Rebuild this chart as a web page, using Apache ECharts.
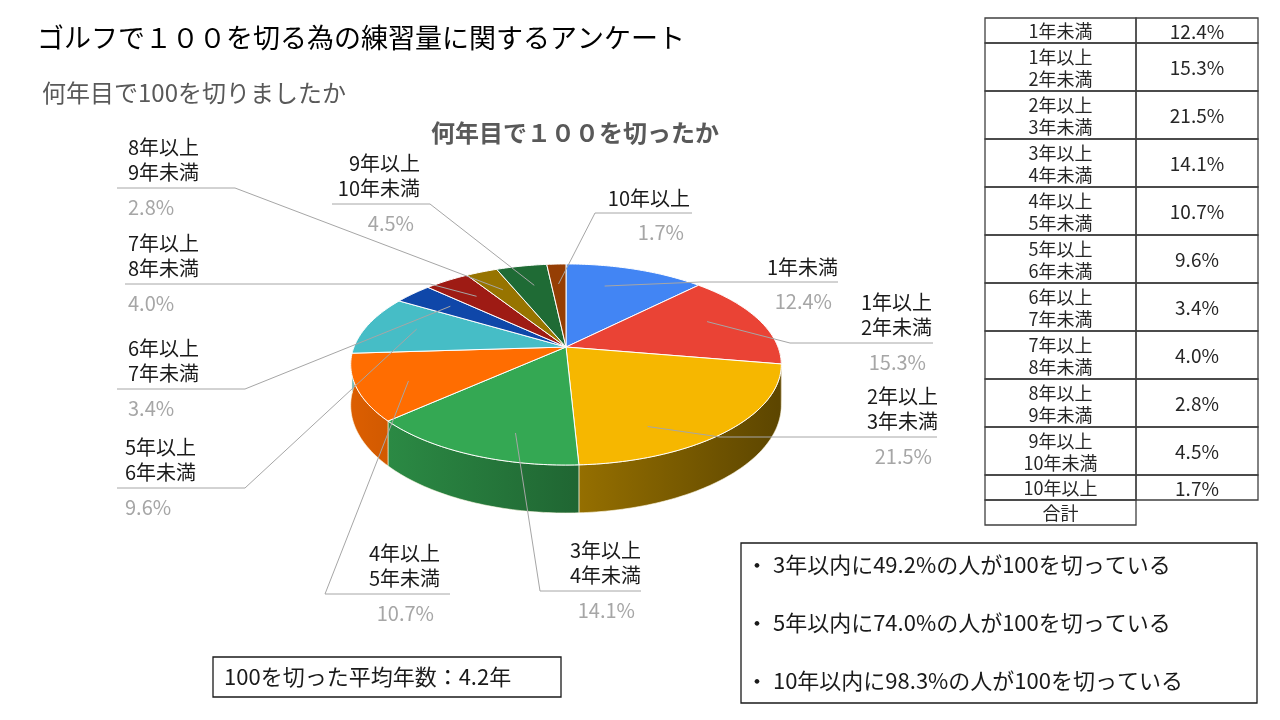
<!DOCTYPE html>
<html>
<head>
<meta charset="utf-8">
<script src="https://cdn.jsdelivr.net/npm/echarts@6/dist/echarts.min.js"></script>
<style>
html,body{margin:0;padding:0;background:#fff;}
#chart{width:1280px;height:720px;}
</style>
</head>
<body>
<div id="chart"></div>
<script>
"use strict";

// ---- data ----
var categories = [
  '1年未満',
  '1年以上\n2年未満',
  '2年以上\n3年未満',
  '3年以上\n4年未満',
  '4年以上\n5年未満',
  '5年以上\n6年未満',
  '6年以上\n7年未満',
  '7年以上\n8年未満',
  '8年以上\n9年未満',
  '9年以上\n10年未満',
  '10年以上'
];
var shares = [12.4, 15.3, 21.5, 14.1, 10.7, 9.6, 3.4, 4.0, 2.8, 4.5, 1.7];
var tableFooter = '合計';

var mainTitle = 'ゴルフで１００を切る為の練習量に関するアンケート';
var subTitle = '何年目で100を切りましたか';
var pieTitle = '何年目で１００を切ったか';
var averageNote = '100を切った平均年数：4.2年';
var summaryLines = [
  '・ 3年以内に49.2%の人が100を切っている',
  '・ 5年以内に74.0%の人が100を切っている',
  '・ 10年以内に98.3%の人が100を切っている'
];

// ---- styles / layout ----
var sliceColors = ['#4285F4','#EA4335','#F6B700','#34A853','#FF6D01','#46BDC6',
                   '#0F47A9','#9E1B14','#977400','#1F6B35','#953E04'];
var FONT = '"Noto Sans CJK JP", "Noto Sans", sans-serif';

// perspective pie: centre, radii, tilt, depth
var PIE = {cx:566, cy:347, a:212, b:97.5, k:0.174, depth:39.6};

// label layout: line y, line left x, line right x, elbow end, text align, text x
var labelLayout = [
  {y:282, xl:700, xr:838, elbow:'l', align:'r', tx:838},
  {y:343, xl:790, xr:933, elbow:'l', align:'r', tx:932},
  {y:437, xl:720, xr:937, elbow:'l', align:'r', tx:938},
  {y:591, xl:540, xr:641, elbow:'l', align:'r', tx:641},
  {y:594, xl:325, xr:450, elbow:'l', align:'r', tx:440},
  {y:488, xl:117, xr:245, elbow:'r', align:'l', tx:125},
  {y:389, xl:117, xr:245, elbow:'r', align:'l', tx:128},
  {y:284, xl:125, xr:430, elbow:'r', align:'l', tx:128},
  {y:188, xl:117, xr:235, elbow:'r', align:'l', tx:128},
  {y:204, xl:332, xr:430, elbow:'r', align:'r', tx:420},
  {y:213, xl:595, xr:692, elbow:'l', align:'r', tx:690}
];

var TABLE = {x0:985, x1:1136, x2:1258, y0:18, row1:25, row2:48};

// ---- geometry ----
var total = shares.reduce(function(s, v){ return s + v; }, 0);
var startAngles = [];
(function(){
  var acc = 0;
  shares.forEach(function(v){ startAngles.push(acc / total * 360); acc += v; });
})();

function proj(t, r, dz){
  var rad = t * Math.PI / 180;
  var u = r * Math.sin(rad), v = -r * Math.cos(rad);
  var s = 1 / (1 - PIE.k * v);
  return [PIE.cx + PIE.a * u * s, PIE.cy + (PIE.b * v + (dz || 0)) * s];
}
function arc(t0, t1, dz){
  var pts = [];
  var n = Math.max(2, Math.ceil(t1 - t0));
  for (var j = 0; j <= n; j++) pts.push(proj(t0 + (t1 - t0) * j / n, 1, dz));
  return pts;
}
function shade(hex, f){
  var n = parseInt(hex.slice(1), 16);
  var r = Math.round(((n >> 16) & 255) * f), g = Math.round(((n >> 8) & 255) * f), b = Math.round((n & 255) * f);
  return 'rgb(' + r + ',' + g + ',' + b + ')';
}
// anchor for the leader line: on the screen-space bisector of the slice
function anchorOf(t0, t1){
  var c = [PIE.cx, PIE.cy];
  var p0 = proj(t0, 1, 0), p1 = proj(t1, 1, 0);
  var d0 = Math.atan2(p0[1] - c[1], p0[0] - c[0]), d1 = Math.atan2(p1[1] - c[1], p1[0] - c[0]);
  var mid = Math.atan2(Math.sin(d0) + Math.sin(d1), Math.cos(d0) + Math.cos(d1));
  var best = null, bestErr = 1e9;
  for (var t = t0; t <= t1; t += 0.25){
    var p = proj(t, 1, 0);
    var d = Math.atan2(p[1] - c[1], p[0] - c[0]);
    var err = Math.abs(Math.atan2(Math.sin(d - mid), Math.cos(d - mid)));
    if (err < bestErr){ bestErr = err; best = p; }
  }
  return [c[0] + (best[0] - c[0]) * 0.76, c[1] + (best[1] - c[1]) * 0.76];
}

function renderSlice(params, api){
  var i = params.dataIndex;
  var t0 = startAngles[i];
  var t1 = t0 + api.value(0) / total * 360;
  var col = sliceColors[i];
  var kids = [];

  // visible outer wall (front half)
  var a = Math.max(t0, 90), b = Math.min(t1, 270);
  if (a < b){
    var wall = arc(a, b, 0).concat(arc(a, b, PIE.depth).reverse());
    kids.push({
      type:'polygon', z2:1, shape:{points:wall},
      style:{
        fill:{type:'linear', x:PIE.cx - PIE.a, y:0, x2:PIE.cx + PIE.a, y2:0, global:true,
              colorStops:[{offset:0, color:shade(col, 0.86)}, {offset:1, color:shade(col, 0.38)}]},
        stroke:'rgba(255,250,230,0.75)', lineWidth:0.8
      }
    });
  }
  // top face
  kids.push({
    type:'polygon', z2:5,
    shape:{points:[[PIE.cx, PIE.cy]].concat(arc(t0, t1, 0))},
    style:{fill:col, stroke:'#ffffff', lineWidth:1}
  });

  // leader line + label
  var L = labelLayout[i];
  var anc = anchorOf(t0, t1);
  var elbow = L.elbow === 'l' ? [L.xl, L.y] : [L.xr, L.y];
  var far = L.elbow === 'l' ? [L.xr, L.y] : [L.xl, L.y];
  kids.push({type:'polyline', z2:8, shape:{points:[anc, elbow, far]},
             style:{stroke:'#a6a6a6', lineWidth:1, fill:null}});

  var lines = categories[i].split('\n');
  var ys = lines.length > 1 ? [L.y - 41, L.y - 16] : [L.y - 15];
  var al = L.align === 'r' ? 'right' : 'left';
  lines.forEach(function(s, j){
    kids.push({type:'text', z2:9, style:{
      text:s, x:L.tx, y:ys[j], fill:'#1a1a1a', font:'20px ' + FONT,
      align:al, verticalAlign:'middle', textAlign:al, textVerticalAlign:'middle'
    }});
  });
  var px = L.align === 'r' ? L.tx - 6 : L.tx;
  kids.push({type:'text', z2:9, style:{
    text:api.value(0).toFixed(1) + '%', x:px, y:L.y + 19, fill:'#a6a6a6', font:'20px ' + FONT,
    align:al, verticalAlign:'middle', textAlign:al, textVerticalAlign:'middle'
  }});

  return {type:'group', children:kids};
}

// ---- table + text boxes ----
function txt(s, x, y, font, align, color, extra){
  var o = {type:'text', x:x, y:y, style:{
    text:s, font:font + ' ' + FONT, fill:color || '#1a1a1a',
    align:align, verticalAlign:'middle', textAlign:align, textVerticalAlign:'middle'
  }};
  if (extra) Object.assign(o.style, extra);
  return o;
}
var graphics = [];
(function(){
  var y = TABLE.y0;
  categories.forEach(function(name, i){
    var h = name.indexOf('\n') >= 0 ? TABLE.row2 : TABLE.row1;
    graphics.push({type:'rect', shape:{x:TABLE.x0, y:y, width:TABLE.x1 - TABLE.x0, height:h},
                   style:{fill:'none', stroke:'#404040', lineWidth:1.3}});
    graphics.push({type:'rect', shape:{x:TABLE.x1, y:y, width:TABLE.x2 - TABLE.x1, height:h},
                   style:{fill:'none', stroke:'#404040', lineWidth:1.3}});
    graphics.push(txt(name, (TABLE.x0 + TABLE.x1) / 2, y + h / 2 + 1, '18px', 'center', '#262626', {lineHeight:22}));
    graphics.push(txt(shares[i].toFixed(1) + '%', (TABLE.x1 + TABLE.x2) / 2, y + h / 2 + 1, '19px', 'center', '#262626'));
    y += h;
  });
  graphics.push({type:'rect', shape:{x:TABLE.x0, y:y, width:TABLE.x1 - TABLE.x0, height:TABLE.row1},
                 style:{fill:'none', stroke:'#404040', lineWidth:1.3}});
  graphics.push(txt(tableFooter, (TABLE.x0 + TABLE.x1) / 2, y + TABLE.row1 / 2 + 1, '18px', 'center', '#262626'));
})();

graphics.push(txt(mainTitle, 37, 38, '27px', 'left', '#000000'));
graphics.push(txt(subTitle, 42, 93, '24px', 'left', '#595959'));
graphics.push(txt(pieTitle, 575, 133, 'bold 24px', 'center', '#595959'));

graphics.push({type:'rect', shape:{x:213, y:657, width:348, height:40},
               style:{fill:'none', stroke:'#1a1a1a', lineWidth:1.3}});
graphics.push(txt(averageNote, 224, 677, '22px', 'left', '#1a1a1a'));

graphics.push({type:'rect', shape:{x:741, y:543, width:516, height:160},
               style:{fill:'none', stroke:'#1a1a1a', lineWidth:1.3}});
summaryLines.forEach(function(s, i){
  graphics.push(txt(s, 746, 565 + i * 58, '22px', 'left', '#1a1a1a'));
});

var chart = echarts.init(document.getElementById('chart'));
chart.setOption({
  backgroundColor:'#ffffff',
  animation:false,
  graphic:{elements:graphics},
  series:[{
    type:'custom',
    coordinateSystem:'none',
    renderItem:renderSlice,
    data:shares.map(function(v, i){ return {name:categories[i], value:[v]}; })
  }]
});
</script>
</body>
</html>
